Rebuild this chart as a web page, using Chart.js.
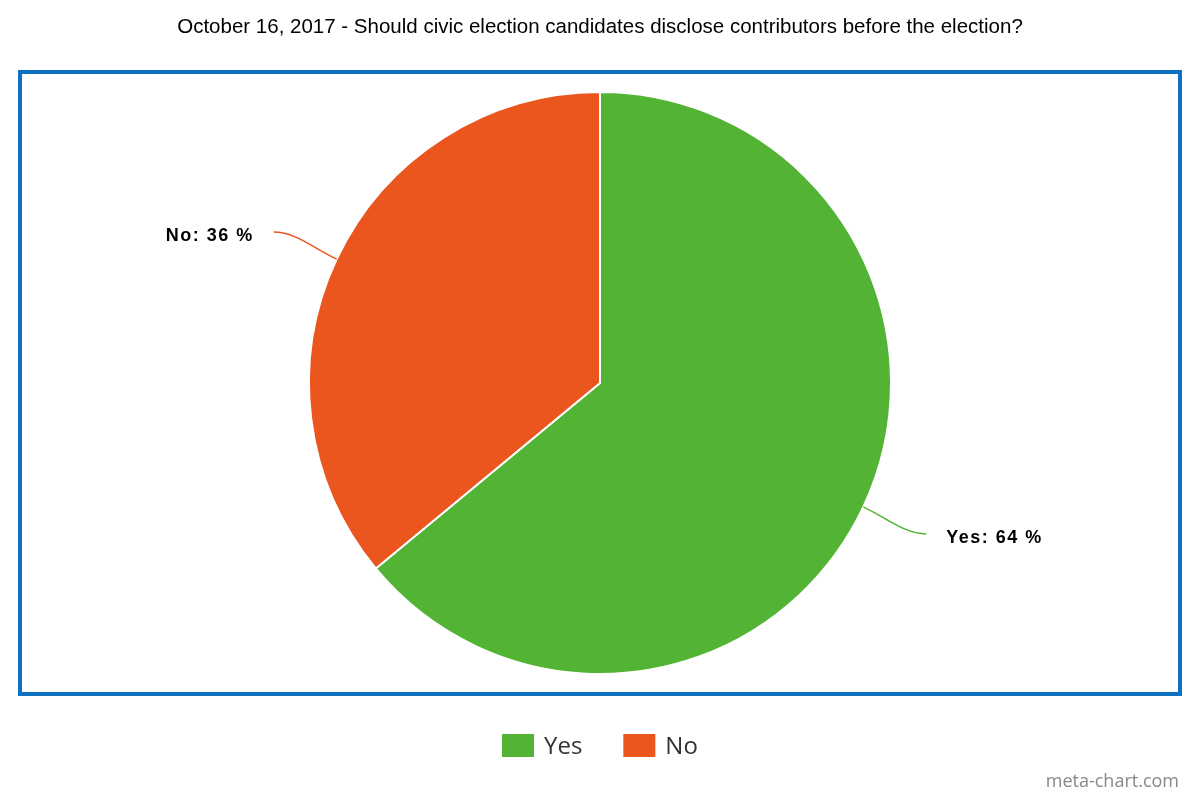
<!DOCTYPE html>
<html>
<head>
<meta charset="utf-8">
<title>Civic election poll</title>
<script src="https://cdn.jsdelivr.net/npm/chart.js@4/dist/chart.umd.min.js"></script>
<style>
  html, body { margin: 0; padding: 0; background: #fff; }
  #wrap { width: 1200px; height: 800px; position: relative; }
</style>
</head>
<body>
<div id="wrap"><canvas id="chart" width="1200" height="800"></canvas></div>
<script>
const title = 'October 16, 2017 - Should civic election candidates disclose contributors before the election?'
const labels = ['Yes', 'No']
const values = [64, 36]
const colors = ['#52b335', '#eb561f']

// frame, title, slice labels, legend and watermark
const decorations = {
    id: 'decorations',
    beforeDraw(chart) {
        const ctx = chart.ctx
        ctx.save()
        ctx.fillStyle = '#fff'
        ctx.fillRect(0, 0, chart.width, chart.height)
        ctx.strokeStyle = '#0f70bf'
        ctx.lineWidth = 4
        ctx.strokeRect(20, 72, 1160, 622)

        ctx.fillStyle = '#000'
        ctx.font = '20.5px "Liberation Sans", Arial, sans-serif'
        ctx.textAlign = 'center'
        ctx.textBaseline = 'middle'
        ctx.fillText(title, 600, 27)
        ctx.restore()
    },
    afterDraw(chart) {
        const ctx = chart.ctx
        const meta = chart.getDatasetMeta(0)
        const total = values.reduce((a, b) => a + b, 0)
        ctx.save()
        meta.data.forEach((arc, i) => {
            const mid = (arc.startAngle + arc.endAngle) / 2
            const r = arc.outerRadius
            const x0 = arc.x + Math.cos(mid) * r
            const y0 = arc.y + Math.sin(mid) * r
            const right = Math.cos(mid) >= 0
            const dir = right ? 1 : -1
            const x1 = x0 + dir * 63
            const y1 = y0 + (Math.sin(mid) >= 0 ? 27 : -27)
            ctx.strokeStyle = colors[i]
            ctx.lineWidth = 1.5
            ctx.beginPath()
            ctx.moveTo(x0, y0)
            ctx.bezierCurveTo(x0 + Math.cos(mid) * 25, y0 + Math.sin(mid) * 25,
                x1 - dir * 22, y1, x1, y1)
            ctx.stroke()

            const pct = Math.round(values[i] / total * 100)
            ctx.fillStyle = '#000'
            ctx.font = 'bold 18px "Liberation Sans", Arial, sans-serif'
            ctx.letterSpacing = '1.5px'
            ctx.textBaseline = 'middle'
            ctx.textAlign = right ? 'left' : 'right'
            ctx.fillText(labels[i] + ': ' + pct + ' %', x1 + dir * 20, y1 + 4)
            ctx.letterSpacing = '0px'
        })

        // legend
        let lx = 502
        ctx.font = '24px "Open Sans", sans-serif'
        ctx.textAlign = 'left'
        ctx.textBaseline = 'middle'
        labels.forEach((lab, i) => {
            ctx.fillStyle = colors[i]
            ctx.fillRect(lx, 734, 32, 23)
            ctx.fillStyle = '#333'
            ctx.fillText(lab, lx + 42, 747)
            lx += 42 + ctx.measureText(lab).width + 41
        })

        ctx.fillStyle = '#888'
        ctx.font = '18px "Open Sans", sans-serif'
        ctx.textAlign = 'right'
        ctx.fillText('meta-chart.com', 1179, 782)
        ctx.restore()
    }
}

new Chart(document.getElementById('chart'), {
    type: 'pie',
    data: {
        labels: labels,
        datasets: [
            {
                data: values,
                backgroundColor: colors,
                borderColor: '#fff',
                borderWidth: 2,
                hoverOffset: 0
            }
        ]
    },
    options: {
        responsive: false,
        animation: false,
        layout: {
            padding: { top: 91, bottom: 125, left: 0, right: 0 }
        },
        plugins: {
            legend: { display: false },
            title: { display: false },
            tooltip: { enabled: false }
        }
    },
    plugins: [decorations]
});
</script>
</body>
</html>
